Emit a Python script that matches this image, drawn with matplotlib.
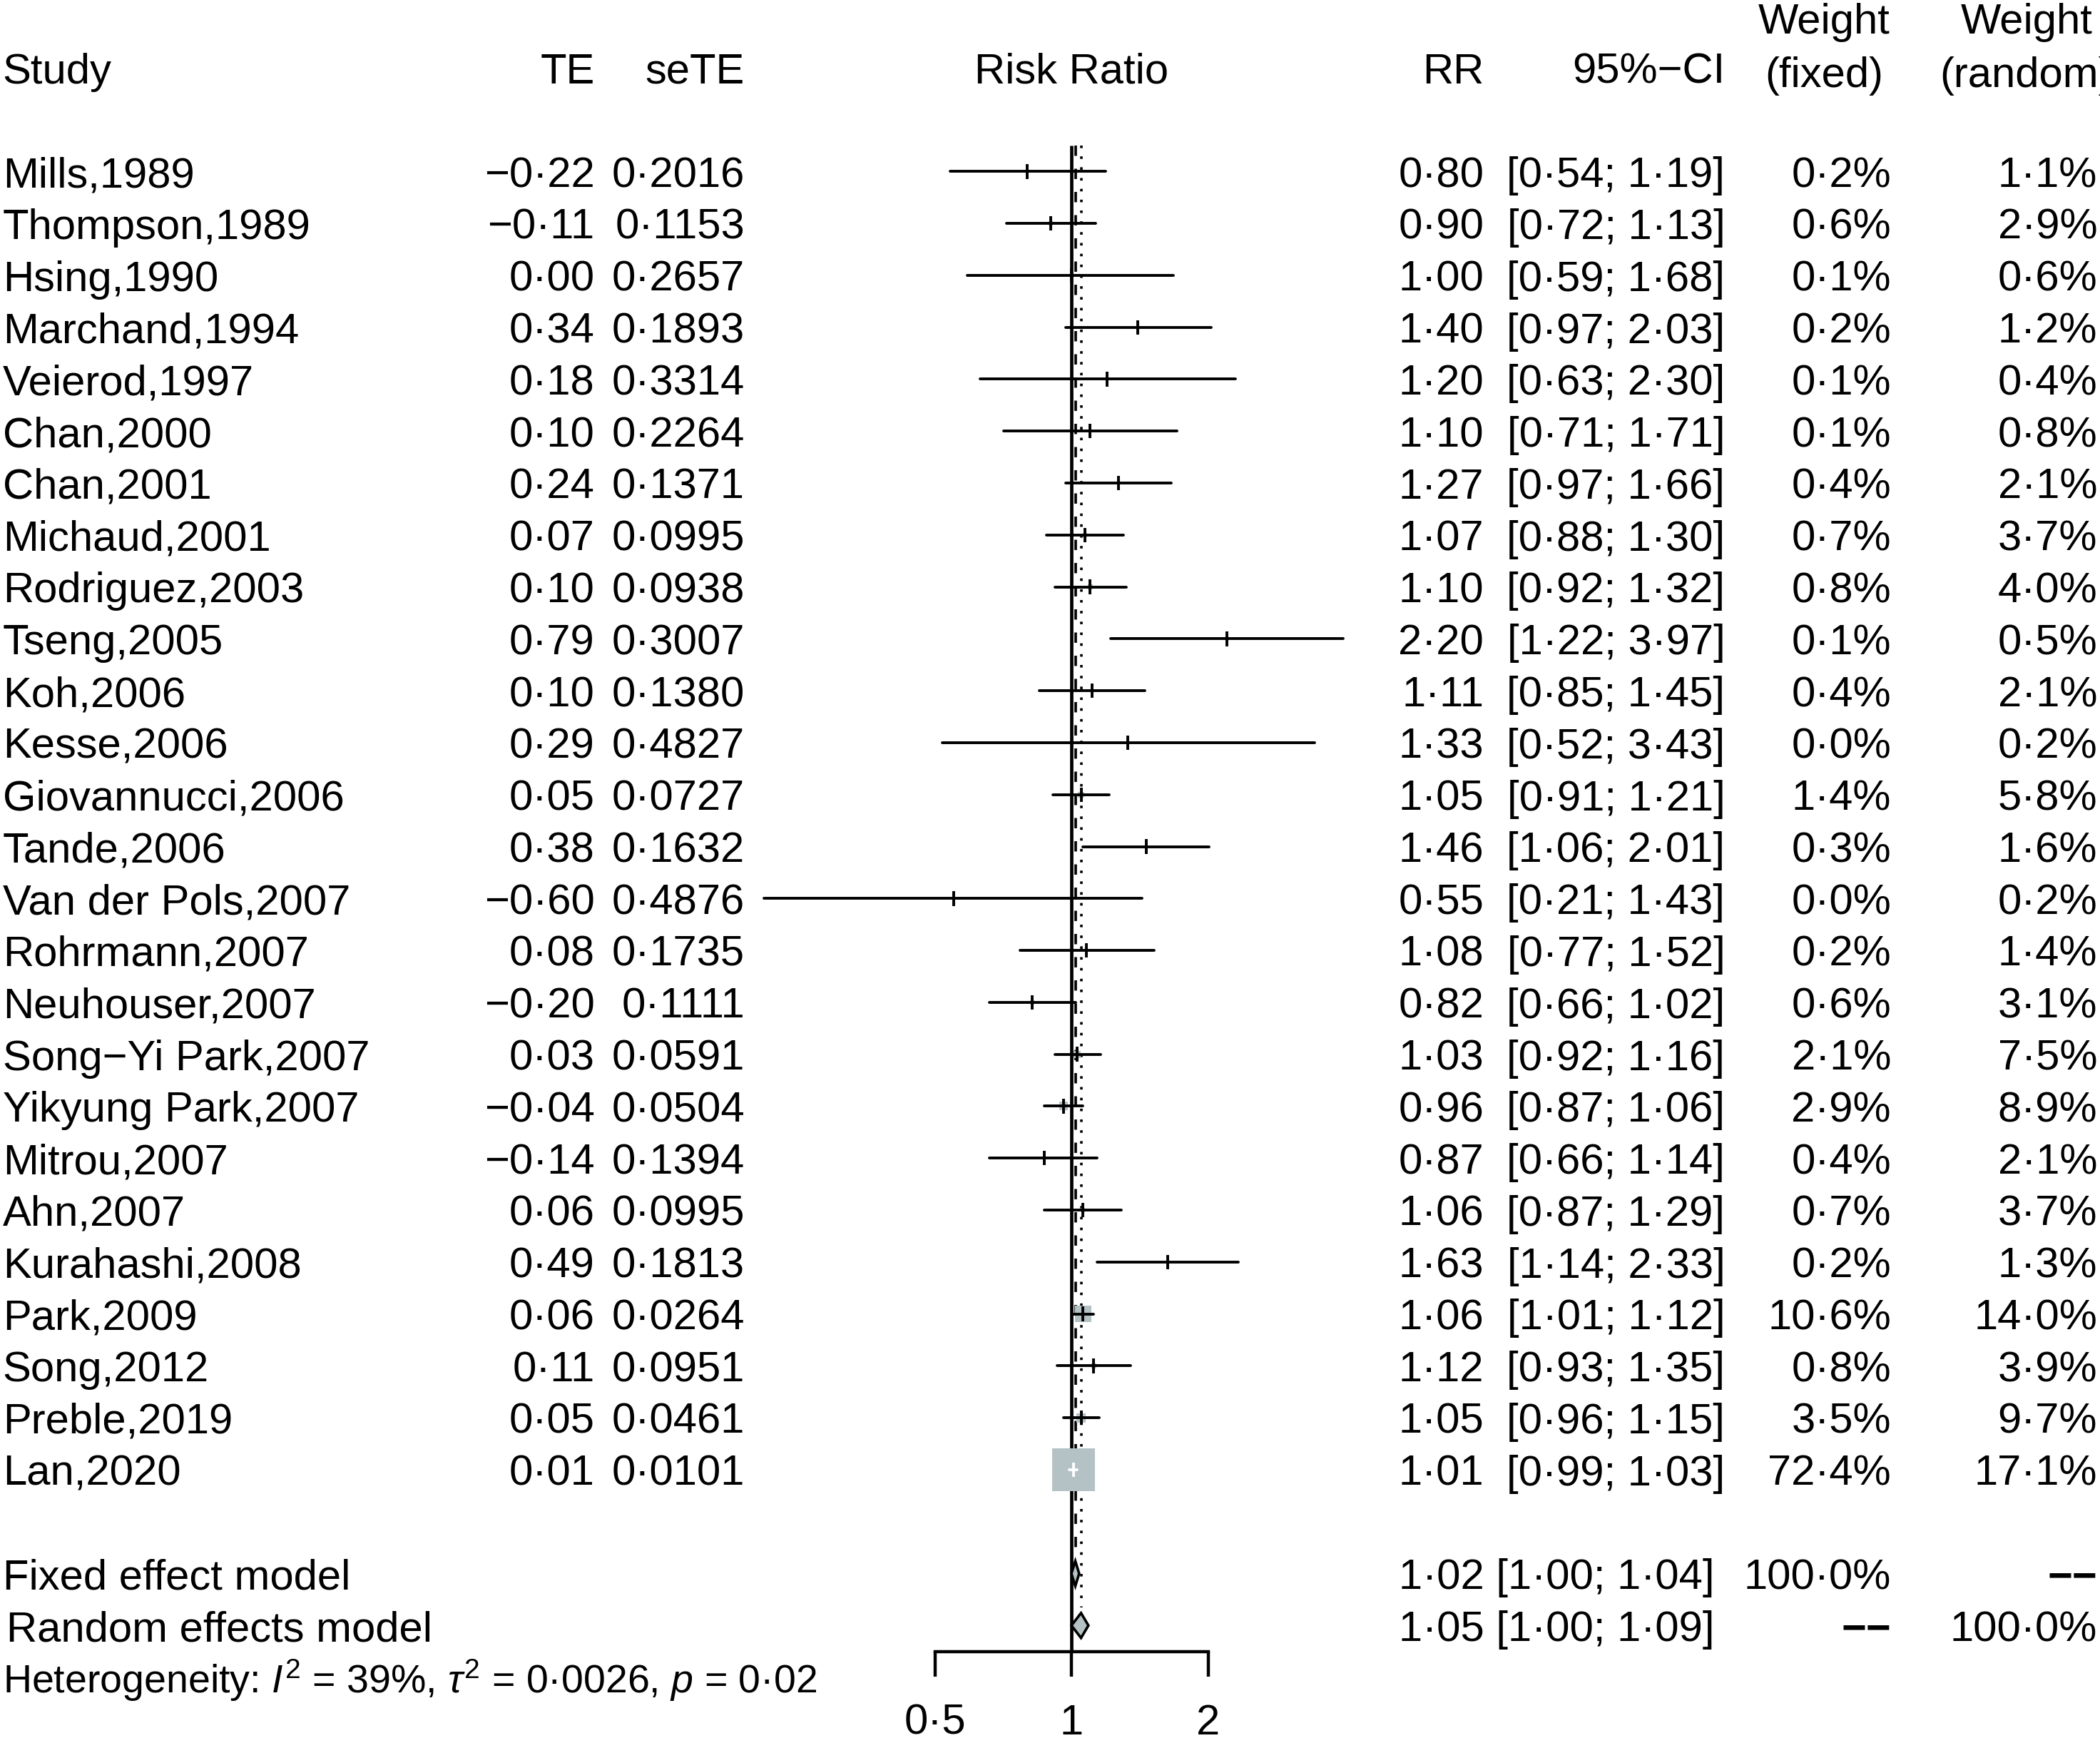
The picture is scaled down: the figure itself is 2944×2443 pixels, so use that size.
import numpy as np
import matplotlib
matplotlib.use("Agg")
import matplotlib.pyplot as plt
from matplotlib.transforms import blended_transform_factory

plt.rcParams.update({
    "font.family": ["Liberation Sans", "DejaVu Sans"],
    "mathtext.fontset": "custom",
    "mathtext.rm": "Liberation Sans",
    "mathtext.it": "Liberation Sans:italic",
})

# data
studies = ["Mills,1989", "Thompson,1989", "Hsing,1990", "Marchand,1994",
           "Veierod,1997", "Chan,2000", "Chan,2001", "Michaud,2001",
           "Rodriguez,2003", "Tseng,2005", "Koh,2006", "Kesse,2006",
           "Giovannucci,2006", "Tande,2006", "Van der Pols,2007",
           "Rohrmann,2007", "Neuhouser,2007", "Song\u2212Yi Park,2007",
           "Yikyung Park,2007", "Mitrou,2007", "Ahn,2007", "Kurahashi,2008",
           "Park,2009", "Song,2012", "Preble,2019", "Lan,2020"]
te = [-0.22, -0.11, 0.00, 0.34, 0.18, 0.10, 0.24, 0.07, 0.10, 0.79, 0.10,
      0.29, 0.05, 0.38, -0.60, 0.08, -0.20, 0.03, -0.04, -0.14, 0.06, 0.49,
      0.06, 0.11, 0.05, 0.01]
sete = [0.2016, 0.1153, 0.2657, 0.1893, 0.3314, 0.2264, 0.1371, 0.0995,
        0.0938, 0.3007, 0.1380, 0.4827, 0.0727, 0.1632, 0.4876, 0.1735,
        0.1111, 0.0591, 0.0504, 0.1394, 0.0995, 0.1813, 0.0264, 0.0951,
        0.0461, 0.0101]
rr = [0.80, 0.90, 1.00, 1.40, 1.20, 1.10, 1.27, 1.07, 1.10, 2.20, 1.11, 1.33,
      1.05, 1.46, 0.55, 1.08, 0.82, 1.03, 0.96, 0.87, 1.06, 1.63, 1.06, 1.12,
      1.05, 1.01]
lower = [0.54, 0.72, 0.59, 0.97, 0.63, 0.71, 0.97, 0.88, 0.92, 1.22, 0.85,
         0.52, 0.91, 1.06, 0.21, 0.77, 0.66, 0.92, 0.87, 0.66, 0.87, 1.14,
         1.01, 0.93, 0.96, 0.99]
upper = [1.19, 1.13, 1.68, 2.03, 2.30, 1.71, 1.66, 1.30, 1.32, 3.97, 1.45,
         3.43, 1.21, 2.01, 1.43, 1.52, 1.02, 1.16, 1.06, 1.14, 1.29, 2.33,
         1.12, 1.35, 1.15, 1.03]
w_fixed = [0.2, 0.6, 0.1, 0.2, 0.1, 0.1, 0.4, 0.7, 0.8, 0.1, 0.4, 0.0, 1.4,
           0.3, 0.0, 0.2, 0.6, 2.1, 2.9, 0.4, 0.7, 0.2, 10.6, 0.8, 3.5, 72.4]
w_random = [1.1, 2.9, 0.6, 1.2, 0.4, 0.8, 2.1, 3.7, 4.0, 0.5, 2.1, 0.2, 5.8,
            1.6, 0.2, 1.4, 3.1, 7.5, 8.9, 2.1, 3.7, 1.3, 14.0, 3.9, 9.7, 17.1]

models = ["Fixed effect model", "Random effects model"]
model_est = [1.02, 1.05]
model_lo = [1.00, 1.00]
model_hi = [1.04, 1.09]
model_wf = ["100\u00b70%", "\u2212\u2212"]
model_wr = ["\u2212\u2212", "100\u00b70%"]
het_text = "Heterogeneity: $\\mathit{I}^{2}$ = 39%, $\\tau^{2}$ = 0\u00b70026, $\\mathit{p}$ = 0\u00b702"

xticks = [0.5, 1, 2]
xticklabels = ["0\u00b75", "1", "2"]


def fmt(v, d):
    s = f"{abs(v):.{d}f}".replace(".", "\u00b7")
    return ("\u2212" if v < 0 else "") + s


W, H, DPI = 2944, 2443, 100
REF_W, REF_H = 1568.0, 1301.0      # layout measured on a 1568-wide copy
ROW0, ROWH = 128.0, 38.76          # first row centre, row height
X1, PX_LOG2 = 800.0, 102.0         # position of RR = 1, pixels per doubling

fig = plt.figure(figsize=(W / DPI, H / DPI), dpi=DPI)
fig.patch.set_facecolor("white")

ax_l, ax_r, ax_b = 517.0, 1066.0, 1233.0
ax = fig.add_axes([ax_l / REF_W, 1 - ax_b / REF_H, (ax_r - ax_l) / REF_W,
                   ax_b / REF_H])
ax.set_xscale("log", base=2)
ax.set_xlim(2 ** ((ax_l - X1) / PX_LOG2), 2 ** ((ax_r - X1) / PX_LOG2))
y_bot = (ax_b - ROW0) / ROWH
y_top = -ROW0 / ROWH
ax.set_ylim(y_bot, y_top)
ax.patch.set_alpha(0)
for s in ["top", "left", "right"]:
    ax.spines[s].set_visible(False)
ax.spines["bottom"].set_bounds(xticks[0], xticks[-1])
ax.spines["bottom"].set_linewidth(3.2)
ax.set_yticks([])
ax.set_xticks(xticks)
ax.set_xticklabels(xticklabels)
ax.xaxis.set_minor_locator(matplotlib.ticker.NullLocator())
ax.tick_params(axis="x", direction="out", length=25, width=3.2,
               labelsize=43, pad=27)

n = len(studies)
rows = np.arange(n)
fs = 43
lw = 2.8
gray = "#b4c2c5"

# reference lines
ax.vlines(1, -0.5, y_bot, color="black", lw=3.4, zorder=1)
ax.vlines(model_est[0], -0.5, n + 1 - 0.35, color="black", lw=2.6,
          linestyles=(0, (4, 5)), zorder=1)
ax.vlines(model_est[1], -0.5, n + 2 - 0.35, color="black", lw=2.6,
          linestyles=(0, (1, 3.2)), zorder=1)

# squares sized by fixed-effect weight
px_per_pt = DPI / 72.0
max_side_pt = 60.0 / px_per_pt
side_pt = max_side_pt * np.sqrt(np.array(w_fixed) / max(w_fixed))
ax.scatter(rr, rows, marker="s", s=side_pt ** 2, color=gray, lw=0, zorder=2)

px_log2 = PX_LOG2 * W / REF_W
for i in range(n):
    half = side_pt[i] * px_per_pt / 2 / px_log2
    inside = (np.log2(lower[i]) >= np.log2(rr[i]) - half and
              np.log2(upper[i]) <= np.log2(rr[i]) + half)
    c = "white" if inside else "black"
    ax.hlines(i, lower[i], upper[i], color=c, lw=lw, zorder=3,
              capstyle="round")
    ax.vlines(rr[i], i - 0.14, i + 0.14, color=c, lw=lw, zorder=3)

# diamonds
for k in range(2):
    yk = n + 1 + k
    ax.fill([model_lo[k], model_est[k], model_hi[k], model_est[k]],
            [yk, yk - 0.24, yk, yk + 0.24], facecolor=gray,
            edgecolor="black", lw=2.6, zorder=4)

# text columns
tr = blended_transform_factory(fig.transFigure, ax.transData)


def put(xpix, row, s, ha, size=fs, **kw):
    ax.text(xpix / REF_W, row + 0.30, s, transform=tr, ha=ha, va="baseline",
            fontsize=size, clip_on=False, **kw)


hdr = -2.0
put(2, hdr, "Study", "left")
put(444, hdr, "TE", "right")
put(556, hdr, "seTE", "right")
put(800, hdr, "Risk Ratio", "center")
put(1108, hdr, "RR", "right")
put(1288, hdr, "95%\u2212CI", "right")
put(1362, -2.95, "Weight", "center")
put(1362, -1.92, "(fixed)", "center")
put(1513, -2.95, "Weight", "center")
put(1513, -1.92, "(random)", "center")

for i in range(n):
    put(2, i, studies[i], "left")
    put(444, i, fmt(te[i], 2), "right")
    put(556, i, fmt(sete[i], 4), "right")
    put(1108, i, fmt(rr[i], 2), "right")
    put(1288, i, f"[{fmt(lower[i], 2)}; {fmt(upper[i], 2)}]", "right")
    put(1412, i, fmt(w_fixed[i], 1) + "%", "right")
    put(1566, i, fmt(w_random[i], 1) + "%", "right")

for k in range(2):
    yk = n + 1 + k
    put(2 + 3 * k, yk, models[k], "left")
    put(1280, yk, f"{fmt(model_est[k], 2)} [{fmt(model_lo[k], 2)}; "
        f"{fmt(model_hi[k], 2)}]", "right")
    put(1412, yk, model_wf[k], "right",
        weight="bold" if model_wf[k].startswith("\u2212") else "normal")
    put(1566, yk, model_wr[k], "right",
        weight="bold" if model_wr[k].startswith("\u2212") else "normal")

put(2, n + 3, het_text, "left", size=40)

fig.savefig("out.png", dpi=DPI)
